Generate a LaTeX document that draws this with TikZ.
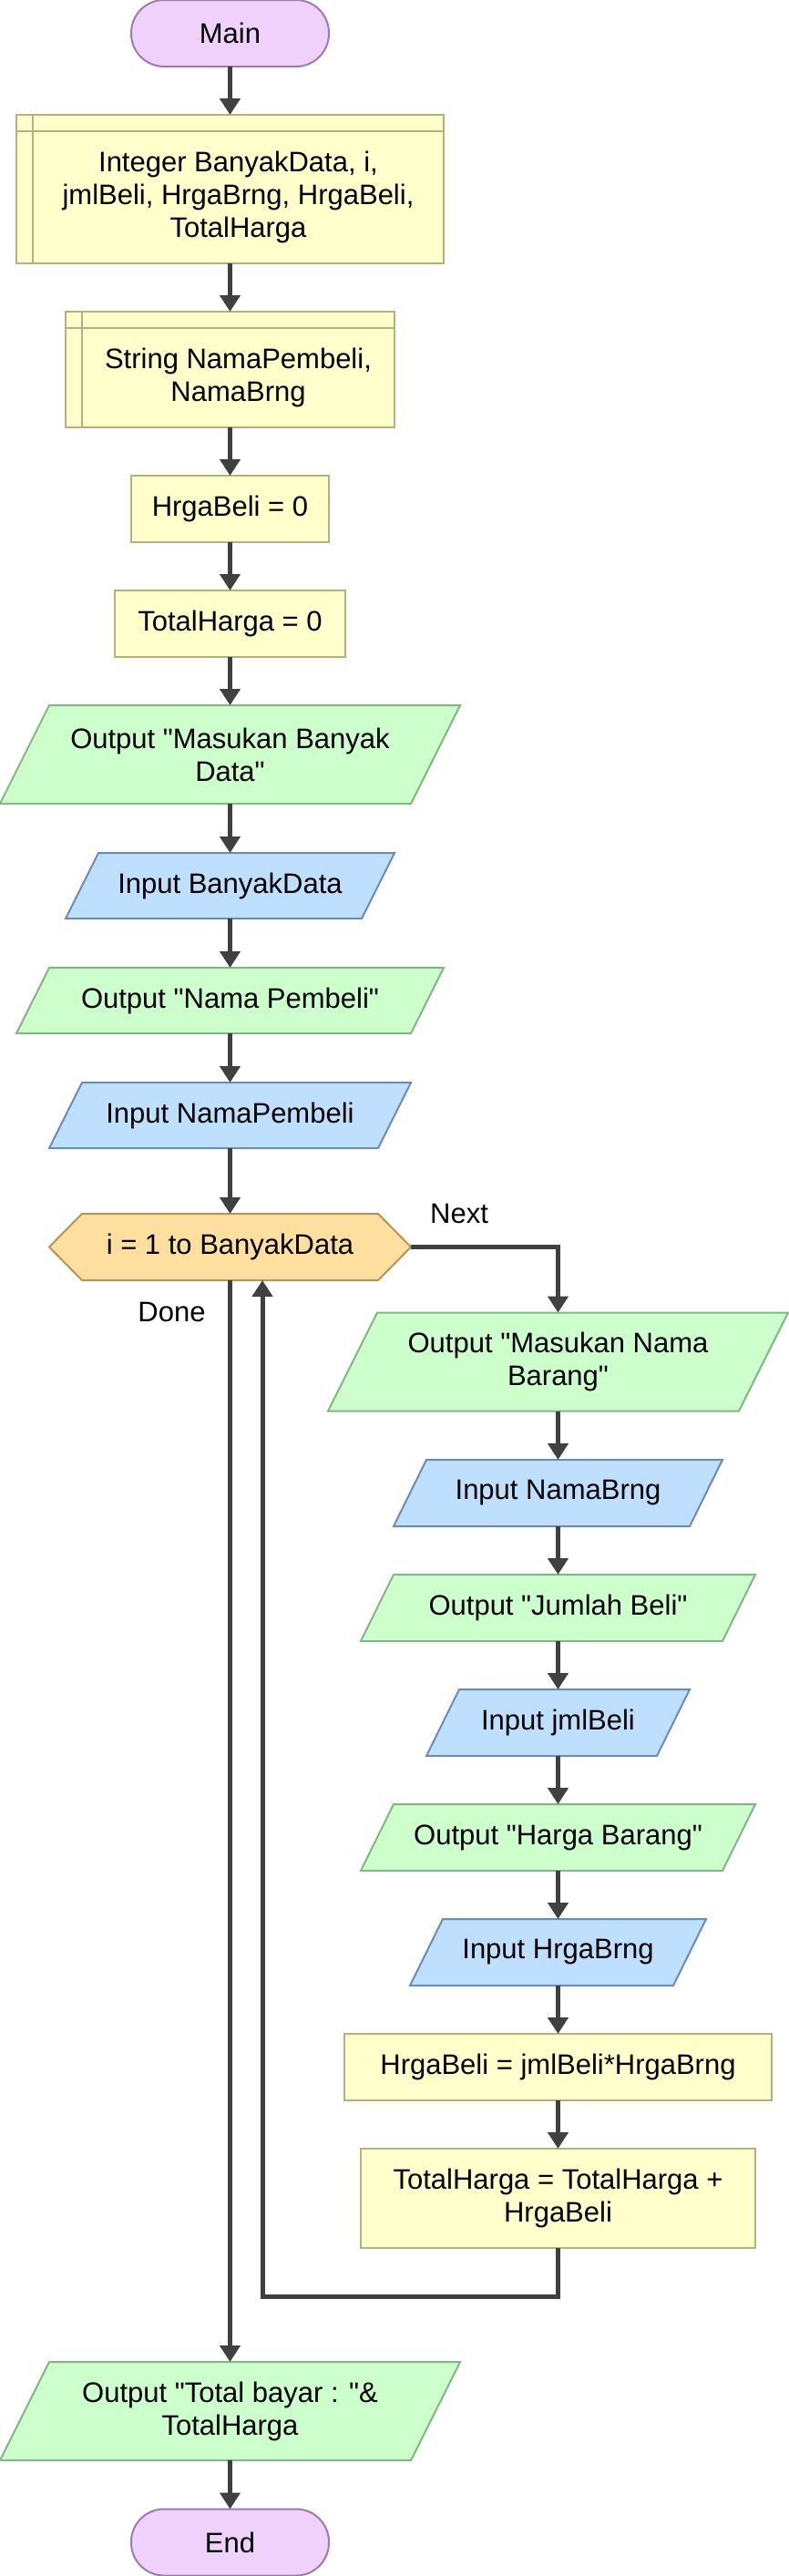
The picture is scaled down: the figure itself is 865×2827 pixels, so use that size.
\documentclass[tikz,border=0pt]{standalone}
\usepackage{fontspec}
\setmainfont{Liberation Sans}
\usetikzlibrary{arrows.meta,backgrounds}
\definecolor{termfill}{HTML}{EFD1FB}
\definecolor{termdraw}{HTML}{9E7BAE}
\definecolor{procfill}{HTML}{FFFFCC}
\definecolor{procdraw}{HTML}{B2B27F}
\definecolor{outfill}{HTML}{CCFFCC}
\definecolor{outdraw}{HTML}{85B585}
\definecolor{infill}{HTML}{BFDFFF}
\definecolor{indraw}{HTML}{6B8CB8}
\definecolor{loopfill}{HTML}{FFDFA0}
\definecolor{loopdraw}{HTML}{B59458}
\definecolor{arrowc}{HTML}{404040}
\newcommand\fsz{\fontsize{31}{36}\selectfont}
\newcommand\dq{\textquotedbl}
\begin{document}
\begin{tikzpicture}[x=1pt,y=-1pt,
  every node/.style={inner sep=0pt, outer sep=0pt, align=center, font=\fsz},
  term/.style={draw=termdraw, fill=termfill, line width=2pt, rounded corners=36pt, minimum width=217pt, minimum height=73pt},
  proc/.style={draw=procdraw, fill=procfill, line width=2pt},
  shapebox/.style={},
  outstyle/.style={draw=outdraw, fill=outfill, line width=2pt},
  instyle/.style={draw=indraw, fill=infill, line width=2pt},
  loopstyle/.style={draw=loopdraw, fill=loopfill, line width=2pt},
  conn/.style={draw=arrowc, line width=5pt, -{Triangle[width=22pt,length=18pt]}}]
\useasboundingbox (0,0) rectangle (865,2827);

\node[term] (main) at (252.5,36.5) {Main};
\node[proc, minimum width=469pt, minimum height=163pt,
  label={[xshift=9pt,yshift=-9pt]center:{Integer BanyakData, i,\\jmlBeli, HrgaBrng, HrgaBeli,\\TotalHarga}}] (decl1) at (252.5,207.5) {};
\node[proc, minimum width=361pt, minimum height=127pt,
  label={[xshift=9pt,yshift=-9pt]center:{String NamaPembeli,\\NamaBrng}}] (decl2) at (252.5,405.5) {};
\node[proc, minimum width=217pt, minimum height=73pt] (p1) at (252.5,558.5) {HrgaBeli = 0};
\node[proc, minimum width=253pt, minimum height=73pt] (p2) at (252.5,684.5) {TotalHarga = 0};
\node[shapebox, minimum width=505pt, minimum height=108pt] (o1) at (252.5,828) {Output \dq Masukan Banyak\\Data\dq};
\node[shapebox, minimum width=361pt, minimum height=72pt] (i1) at (252.5,972) {Input BanyakData};
\node[shapebox, minimum width=469pt, minimum height=72pt] (o2) at (252.5,1098) {Output \dq Nama Pembeli\dq};
\node[shapebox, minimum width=397pt, minimum height=72pt] (i2) at (252.5,1224) {Input NamaPembeli};
\node[shapebox, minimum width=397pt, minimum height=73pt] (loop) at (252.5,1368.5) {i = 1 to BanyakData};
\node[shapebox, minimum width=505pt, minimum height=108pt] (o3) at (612.5,1494.5) {Output \dq Masukan Nama\\Barang\dq};
\node[shapebox, minimum width=361pt, minimum height=73pt] (i3) at (612.5,1638.5) {Input NamaBrng};
\node[shapebox, minimum width=433pt, minimum height=73pt] (o4) at (612.5,1764.5) {Output \dq Jumlah Beli\dq};
\node[shapebox, minimum width=289pt, minimum height=73pt] (i4) at (612.5,1890.5) {Input jmlBeli};
\node[shapebox, minimum width=433pt, minimum height=73pt] (o5) at (612.5,2016.5) {Output \dq Harga Barang\dq};
\node[shapebox, minimum width=325pt, minimum height=73pt] (i5) at (612.5,2142.5) {Input HrgaBrng};
\node[proc, minimum width=469pt, minimum height=73pt] (p3) at (612.5,2268.5) {HrgaBeli = jmlBeli*HrgaBrng};
\node[proc, minimum width=433pt, minimum height=109pt] (p4) at (612.5,2412.5) {TotalHarga = TotalHarga +\\HrgaBeli};
\node[shapebox, minimum width=505pt, minimum height=108pt] (o6) at (252.5,2646) {Output \dq Total bayar : \dq\&\\TotalHarga};
\node[term] (end) at (252.5,2790) {End};

\node (next) at (504,1332) {Next};
\node (done) at (188.5,1440) {Done};

% inner lines of declaration boxes
\foreach \n in {decl1,decl2}{
  \draw[procdraw, line width=2pt] ([xshift=18pt]\n.north west) -- ([xshift=18pt]\n.south west);
  \draw[procdraw, line width=2pt] ([yshift=-18pt]\n.north west) -- ([yshift=-18pt]\n.north east);
}

\begin{scope}[on background layer]
\foreach \n/\d in {o1/54,o2/36,o3/54,o4/36,o5/36,o6/54}
  \draw[outstyle] ([xshift=\d pt]\n.north west) -- (\n.north east) -- ([xshift=-\d pt]\n.south east) -- (\n.south west) -- cycle;
\foreach \n in {i1,i2,i3,i4,i5}
  \draw[instyle] ([xshift=36pt]\n.north west) -- (\n.north east) -- ([xshift=-36pt]\n.south east) -- (\n.south west) -- cycle;
\draw[loopstyle] (loop.west) -- ([xshift=36pt]loop.north west) -- ([xshift=-36pt]loop.north east) -- (loop.east) -- ([xshift=-36pt]loop.south east) -- ([xshift=36pt]loop.south west) -- cycle;
\end{scope}

\draw[conn] (main.south) -- (decl1.north);
\draw[conn] (decl1.south) -- (decl2.north);
\draw[conn] (decl2.south) -- (p1.north);
\draw[conn] (p1.south) -- (p2.north);
\draw[conn] (p2.south) -- (o1.north);
\draw[conn] (o1.south) -- (i1.north);
\draw[conn] (i1.south) -- (o2.north);
\draw[conn] (o2.south) -- (i2.north);
\draw[conn] (i2.south) -- (loop.north);
\draw[conn] (loop.east) -| (o3.north);
\draw[conn] (o3.south) -- (i3.north);
\draw[conn] (i3.south) -- (o4.north);
\draw[conn] (o4.south) -- (i4.north);
\draw[conn] (i4.south) -- (o5.north);
\draw[conn] (o5.south) -- (i5.north);
\draw[conn] (i5.south) -- (p3.north);
\draw[conn] (p3.south) -- (p4.north);
\coordinate (back) at (288,2520);
\draw[conn] (p4.south) |- (back) -- (back |- loop.south);
\draw[conn] (loop.south) -- (o6.north);
\draw[conn] (o6.south) -- (end.north);
\end{tikzpicture}
\end{document}
